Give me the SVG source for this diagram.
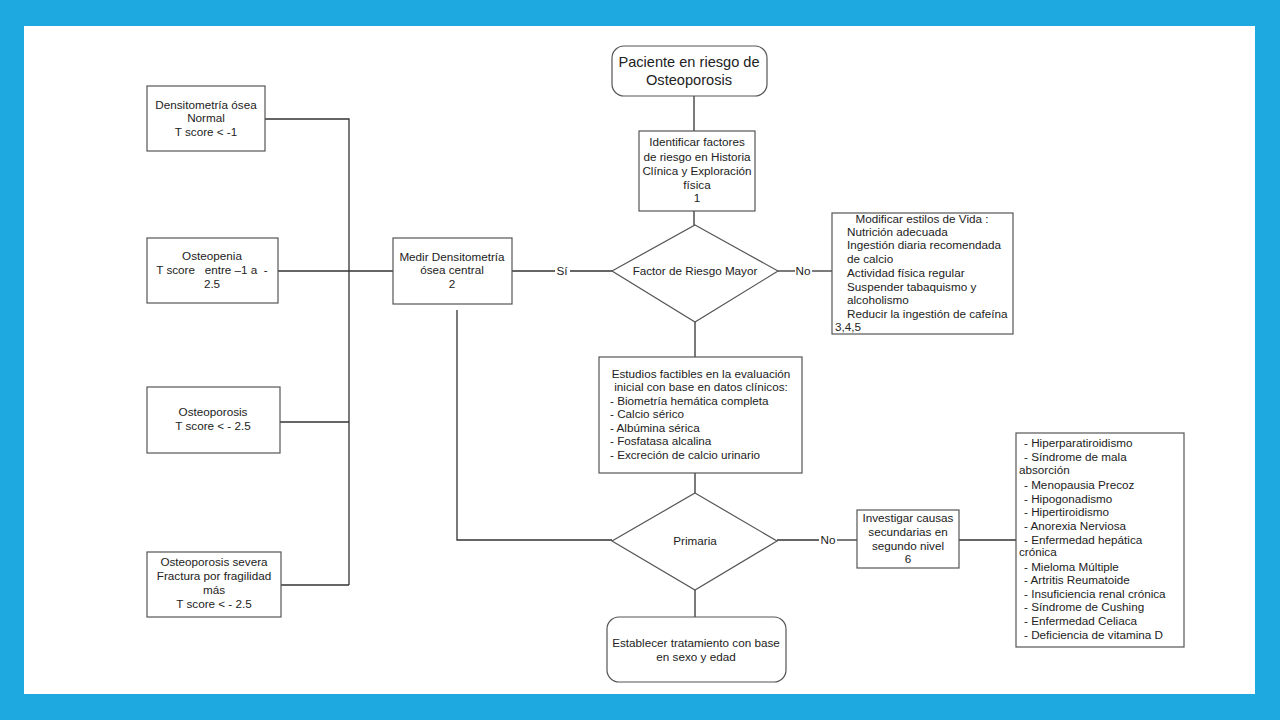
<svg xmlns="http://www.w3.org/2000/svg" width="1280" height="720" viewBox="0 0 1280 720">
<style>
.box{fill:#fff;stroke:#555;stroke-width:1.2}
.ln{fill:none;stroke:#333;stroke-width:1.3}
text{font-family:"Liberation Sans",Arial,sans-serif;font-size:11.7px;fill:#222}
.c{text-anchor:middle}
.big{font-size:14.6px}
</style>
<rect x="0" y="0" width="1280" height="720" fill="#1FA9E1"/>
<rect x="24" y="26" width="1231" height="668" fill="#fff"/>
<g id="connectors">
<polyline class="ln" points="265,119 349,119 349,585"/>
<line class="ln" x1="278" y1="271" x2="393" y2="271"/>
<line class="ln" x1="280" y1="422" x2="349" y2="422"/>
<line class="ln" x1="281" y1="585" x2="349" y2="585"/>
<line class="ln" x1="512" y1="271" x2="555" y2="271"/>
<line class="ln" x1="570" y1="271" x2="612" y2="271"/>
<polyline class="ln" points="457,310 457,540 612,540"/>
<line class="ln" x1="694" y1="95" x2="694" y2="131"/>
<line class="ln" x1="694" y1="211" x2="694" y2="225"/>
<line class="ln" x1="778" y1="271" x2="795" y2="271"/>
<line class="ln" x1="812" y1="271" x2="832" y2="271"/>
<line class="ln" x1="695" y1="322" x2="695" y2="357"/>
<line class="ln" x1="695" y1="473" x2="695" y2="493"/>
<line class="ln" x1="777" y1="540" x2="819" y2="540"/>
<line class="ln" x1="837" y1="540" x2="857" y2="540"/>
<line class="ln" x1="695" y1="590" x2="695" y2="617"/>
<line class="ln" x1="959" y1="540" x2="1016" y2="540"/>
<text x="562" y="275" class="c">Sí</text>
<text x="803" y="275" class="c">No</text>
<text x="828" y="544" class="c">No</text>
</g>
<g id="paciente">
<rect class="box" x="612" y="46" width="155" height="50" rx="12"/>
<text class="c big" x="689" y="67">Paciente en riesgo de</text>
<text class="c big" x="689" y="85">Osteoporosis</text>
</g>
<g id="identificar">
<rect class="box" x="639" y="131" width="116" height="80"/>
<text class="c" x="697" y="146">Identificar factores</text>
<text class="c" x="697" y="161">de riesgo en Historia</text>
<text class="c" x="697" y="175">Clínica y Exploración</text>
<text class="c" x="697" y="189">física</text>
<text class="c" x="697" y="202">1</text>
</g>
<g id="factor">
<polygon class="box" points="695,225 778,271 695,322 612,271"/>
<text class="c" x="695" y="275">Factor de Riesgo Mayor</text>
</g>
<g id="modificar">
<rect class="box" x="832" y="213" width="181" height="121"/>
<text class="c" x="922" y="223">Modificar estilos de Vida :</text>
<text x="847" y="236">Nutrición adecuada</text>
<text x="847" y="249">Ingestión diaria recomendada</text>
<text x="847" y="263">de calcio</text>
<text x="847" y="277">Actividad física regular</text>
<text x="847" y="291">Suspender tabaquismo y</text>
<text x="847" y="304">alcoholismo</text>
<text x="847" y="318">Reducir la ingestión de cafeína</text>
<text x="835" y="331">3,4,5</text>
</g>
<g id="medir">
<rect class="box" x="393" y="238" width="119" height="66"/>
<text class="c" x="452" y="261">Medir Densitometría</text>
<text class="c" x="452" y="274">ósea central</text>
<text class="c" x="452" y="288">2</text>
</g>
<g id="densitometria">
<rect class="box" x="147" y="86" width="118" height="65"/>
<text class="c" x="206" y="109">Densitometría ósea</text>
<text class="c" x="206" y="122">Normal</text>
<text class="c" x="206" y="136">T score &lt; -1</text>
</g>
<g id="osteopenia">
<rect class="box" x="147" y="238" width="131" height="65"/>
<text class="c" x="212" y="260">Osteopenia</text>
<text class="c" x="212" y="274" xml:space="preserve">T score   entre –1 a  -</text>
<text class="c" x="212" y="288">2.5</text>
</g>
<g id="osteoporosis">
<rect class="box" x="147" y="387" width="133" height="66"/>
<text class="c" x="213" y="416">Osteoporosis</text>
<text class="c" x="213" y="430">T score &lt; - 2.5</text>
</g>
<g id="severa">
<rect class="box" x="147" y="552" width="134" height="65"/>
<text class="c" x="214" y="566">Osteoporosis severa</text>
<text class="c" x="214" y="580">Fractura por fragilidad</text>
<text class="c" x="214" y="594">más</text>
<text class="c" x="214" y="608">T score &lt; - 2.5</text>
</g>
<g id="estudios">
<rect class="box" x="599" y="357" width="203" height="116"/>
<text class="c" x="701" y="378">Estudios factibles en la evaluación</text>
<text class="c" x="701" y="391">inicial con base en datos clínicos:</text>
<text x="610" y="405">- Biometría hemática completa</text>
<text x="610" y="418">- Calcio sérico</text>
<text x="610" y="432">- Albúmina sérica</text>
<text x="610" y="445">- Fosfatasa alcalina</text>
<text x="610" y="459">- Excreción de calcio urinario</text>
</g>
<g id="primaria">
<polygon class="box" points="695,493 777,541 695,590 612,541"/>
<text class="c" x="695" y="545">Primaria</text>
</g>
<g id="establecer">
<rect class="box" x="607" y="617" width="179" height="65" rx="12"/>
<text class="c" x="696" y="647">Establecer tratamiento con base</text>
<text class="c" x="696" y="661">en sexo y edad</text>
</g>
<g id="investigar">
<rect class="box" x="857" y="510" width="102" height="58"/>
<text class="c" x="908" y="522">Investigar causas</text>
<text class="c" x="908" y="536">secundarias en</text>
<text class="c" x="908" y="550">segundo nivel</text>
<text class="c" x="908" y="563">6</text>
</g>
<g id="causas">
<rect class="box" x="1016" y="433" width="168" height="214"/>
<text x="1024" y="447">- Hiperparatiroidismo</text>
<text x="1024" y="461">- Síndrome de mala</text>
<text x="1019" y="474">absorción</text>
<text x="1024" y="489">- Menopausia Precoz</text>
<text x="1024" y="503">- Hipogonadismo</text>
<text x="1024" y="516">- Hipertiroidismo</text>
<text x="1024" y="530">- Anorexia Nerviosa</text>
<text x="1024" y="544">- Enfermedad hepática</text>
<text x="1019" y="556">crónica</text>
<text x="1024" y="571">- Mieloma Múltiple</text>
<text x="1024" y="584">- Artritis Reumatoide</text>
<text x="1024" y="598">- Insuficiencia renal crónica</text>
<text x="1024" y="611">- Síndrome de Cushing</text>
<text x="1024" y="625">- Enfermedad Celiaca</text>
<text x="1024" y="639">- Deficiencia de vitamina D</text>
</g>
</svg>
